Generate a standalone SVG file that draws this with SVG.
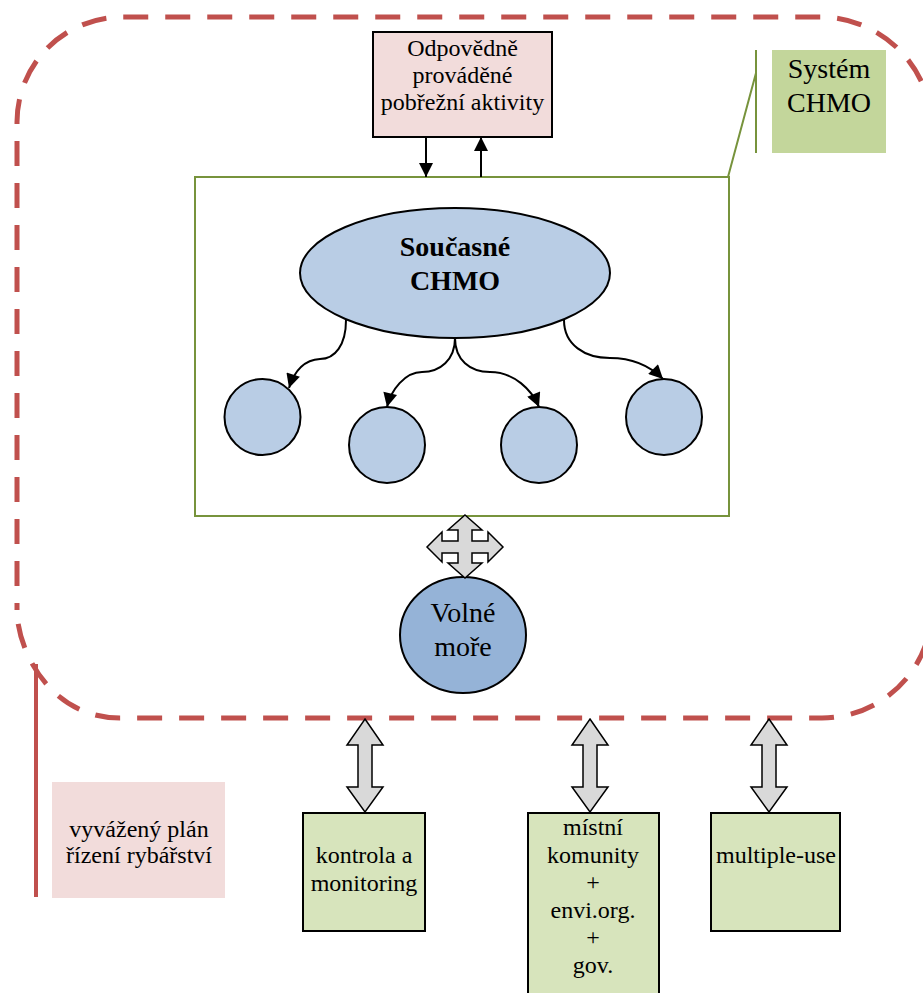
<svg xmlns="http://www.w3.org/2000/svg" width="923" height="993" viewBox="0 0 923 993">
<style>
text{font-family:"Liberation Serif","Times New Roman",serif;fill:#000;text-anchor:middle}
.t24{font-size:24px}
.t28{font-size:28px}
.bold{font-weight:bold}
.blk{stroke:#000;stroke-width:2}
.bub{fill:#b9cde5;stroke:#000;stroke-width:2}
.gbox{fill:#d7e4bc;stroke:#000;stroke-width:2}
.con{fill:none;stroke:#000;stroke-width:2}
.fat{fill:#d9d9d9;stroke:#000;stroke-width:1.5;stroke-linejoin:miter}
</style>
<defs>
<marker id="ah" viewBox="0 0 10 10" refX="10" refY="5" markerWidth="15" markerHeight="14" markerUnits="userSpaceOnUse" orient="auto">
<path d="M0,0 L10,5 L0,10 z" fill="#000"/>
</marker>
</defs>

<g id="boundary">
<path d="M17,610 C17,650 50,718 120,718 L822,718 A110,110 0 0 0 932,608 L932,128 A112,112 0 0 0 820,17 L122,17 A105,105 0 0 0 17,122 Z" fill="none" stroke="#c0504d" stroke-width="5" stroke-dasharray="25 17" stroke-dashoffset="28"/>
<path d="M36,664 V897" fill="none" stroke="#c0504d" stroke-width="4"/>
</g>

<g id="plan">
<rect x="52" y="782" width="173" height="116" fill="#f2dcdb"/>
<text class="t24" x="139" y="837">vyvážený plán</text>
<text class="t24" x="139" y="863">řízení rybářství</text>
</g>

<g id="system-label">
<path d="M756,50 V153 M756,73 L728,177" fill="none" stroke="#77933c" stroke-width="2"/>
<rect x="772" y="50" width="114" height="103" fill="#c3d69b"/>
<text class="t28" x="829" y="78">Systém</text>
<text class="t28" x="829" y="112">CHMO</text>
</g>

<g id="coastal">
<rect x="373" y="32" width="179" height="105" fill="#f2dcdb" class="blk"/>
<text class="t24" x="462.5" y="56">Odpovědně</text>
<text class="t24" x="462.5" y="83">prováděné</text>
<text class="t24" x="462.5" y="110">pobřežní aktivity</text>
</g>

<g id="chmo-system">
<rect x="195" y="177" width="534" height="339" fill="none" stroke="#77933c" stroke-width="2"/>
</g>

<g id="current-chmo">
<ellipse cx="455" cy="273" rx="155" ry="65" class="bub"/>
<text class="t28 bold" x="455" y="256">Současné</text>
<text class="t28 bold" x="455" y="290">CHMO</text>
</g>

<g id="c1"><circle cx="262.5" cy="417" r="38" class="bub"/></g>
<g id="c2"><circle cx="387" cy="445" r="38" class="bub"/></g>
<g id="c3"><circle cx="539" cy="445" r="38" class="bub"/></g>
<g id="c4"><circle cx="664" cy="417" r="38" class="bub"/></g>

<g id="open-sea">
<ellipse cx="463" cy="635" rx="63" ry="58" fill="#95b3d7" stroke="#000" stroke-width="2"/>
<text class="t28" x="463" y="622">Volné</text>
<text class="t28" x="463" y="656">moře</text>
</g>

<g id="control">
<rect x="303" y="813" width="122" height="118" class="gbox"/>
<text class="t24" x="364" y="863">kontrola a</text>
<text class="t24" x="364" y="891">monitoring</text>
</g>

<g id="communities">
<rect x="528" y="813" width="131" height="190" class="gbox"/>
<text class="t24" x="593" y="835">místní</text>
<text class="t24" x="593" y="863">komunity</text>
<text class="t24" x="593" y="890">+</text>
<text class="t24" x="593" y="918">envi.org.</text>
<text class="t24" x="593" y="945">+</text>
<text class="t24" x="593" y="973">gov.</text>
</g>

<g id="multiple-use">
<rect x="711" y="813" width="129" height="118" class="gbox"/>
<text class="t24" x="776" y="863">multiple-use</text>
</g>

<g id="connectors">
<path class="con" d="M426,137 V177" marker-end="url(#ah)"/>
<path class="con" d="M481,177 V137" marker-end="url(#ah)"/>
<path class="con" d="M346,320 C346,345 335,359 320,359 C303,360 294,372 289,388" marker-end="url(#ah)"/>
<path class="con" d="M455,338 C455,360 440,372 422,372 C405,372 391,390 387,407" marker-end="url(#ah)"/>
<path class="con" d="M455,338 C455,360 470,372 490,372 C514,372 532,390 539,407" marker-end="url(#ah)"/>
<path class="con" d="M564,320 C564,345 585,358 610,358 C633,358 651,367 663,379" marker-end="url(#ah)"/>
<polygon class="fat" points="465,515 482,530 472,530 472,541 488,541 488,532 503,547 488,562 488,553 472,553 472,563 482,563 465,578 448,563 458,563 458,553 442,553 442,562 427,547 442,532 442,541 458,541 458,530 448,530"/>
<polygon class="fat" points="365,719 383,745 372,745 372,787 383,787 365,812 347,787 358,787 358,745 347,745"/>
<polygon class="fat" points="590,719 608,745 597,745 597,787 608,787 590,812 572,787 583,787 583,745 572,745"/>
<polygon class="fat" points="769,719 787,745 776,745 776,787 787,787 769,812 751,787 762,787 762,745 751,745"/>
</g>
</svg>
